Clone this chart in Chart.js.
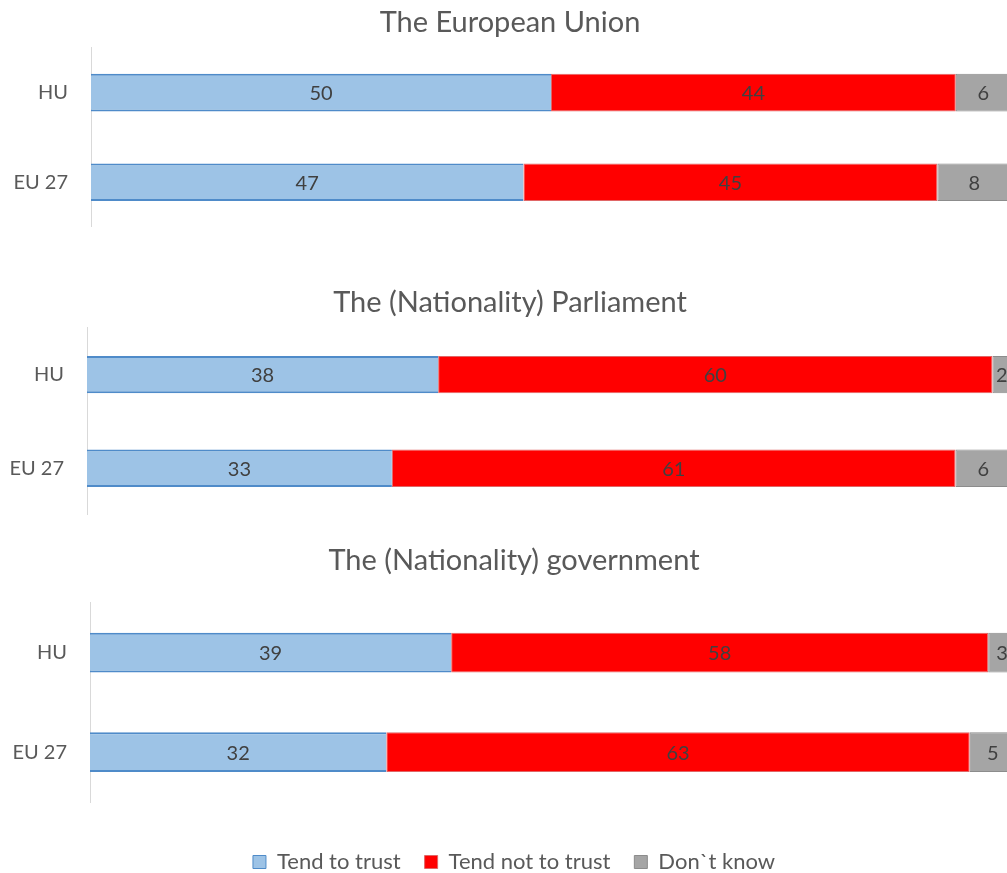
<!DOCTYPE html>
<html lang="en">
  <head>
    <meta charset="UTF-8" />
    <title>Trust in institutions</title>
    <script src="https://cdn.jsdelivr.net/npm/chart.js@4.4.0/dist/chart.umd.min.js"></script>
    <style>
      html, body { margin: 0; padding: 0; background: #fff; overflow: hidden; }
      body { width: 1007px; height: 873px; position: relative; }
      .box { position: absolute; }
    </style>
  </head>
  <body>
    <div class="box" style="left: 9px; top: 0px; width: 1002px; height: 227px"><canvas id="chart1"></canvas></div>
    <div class="box" style="left: 9px; top: 280px; width: 1002px; height: 235px"><canvas id="chart2"></canvas></div>
    <div class="box" style="left: 12px; top: 538px; width: 1004px; height: 345px"><canvas id="chart3"></canvas></div>

    <script>
      // datos
      const categories = ['HU', 'EU 27'];
      const seriesNames = ['Tend to trust', 'Tend not to trust', 'Don`t know'];
      const titles = ['The European Union', 'The (Nationality) Parliament', 'The (Nationality) government'];

      const trustEU = [50, 47];
      const notTrustEU = [44, 45];
      const dontKnowEU = [6, 8];

      const trustParl = [38, 33];
      const notTrustParl = [60, 61];
      const dontKnowParl = [2, 6];

      const trustGov = [39, 32];
      const notTrustGov = [58, 63];
      const dontKnowGov = [3, 5];

      const FONT = 'Lato';

      // Etiquetas de valor en el centro de cada barra
      const valueLabels = {
        id: 'valueLabels',
        afterDatasetsDraw(chart) {
          const ctx = chart.ctx;
          ctx.save();
          ctx.font = '20px ' + FONT;
          ctx.fillStyle = '#404040';
          ctx.textAlign = 'center';
          ctx.textBaseline = 'middle';
          chart.data.datasets.forEach((ds, i) => {
            chart.getDatasetMeta(i).data.forEach((bar, j) => {
              const p = bar.getProps(['x', 'y', 'base'], true);
              ctx.fillText(ds.data[j], (p.x + p.base) / 2, p.y + 1);
            });
          });
          ctx.restore();
        },
      };

      function makeChart(id, title, trust, notTrust, dontKnow, opts) {
        return new Chart(document.getElementById(id), {
          type: 'bar',
          data: {
            labels: categories,
            datasets: [
              { label: seriesNames[0], data: trust, backgroundColor: '#9DC3E6', borderColor: '#4F8BC9', borderWidth: { top: 2, bottom: 2, left: 0, right: 0 }, borderSkipped: false },
              { label: seriesNames[1], data: notTrust, backgroundColor: '#FF0000', borderColor: '#E06666', borderWidth: 1, borderSkipped: false },
              { label: seriesNames[2], data: dontKnow, backgroundColor: '#A5A5A5', borderColor: '#8C8C8C', borderWidth: 1, borderSkipped: false },
            ],
          },
          options: {
            indexAxis: 'y',
            responsive: true,
            maintainAspectRatio: false,
            animation: false,
            categoryPercentage: 1,
            barPercentage: opts.barPct,
            layout: { padding: 0 },
            scales: {
              x: {
                stacked: true,
                min: 0,
                max: 100,
                display: true,
                grid: { display: false, drawTicks: false },
                border: { display: false },
                ticks: { display: false },
                afterFit: (s) => { s.height = opts.xGap || 0; },
              },
              y: {
                stacked: true,
                grid: { display: false, drawTicks: false },
                border: { display: true, color: '#D9D9D9', width: 1 },
                ticks: { color: '#595959', font: { family: FONT, size: 20 }, padding: 23 },
                afterFit: (s) => {
                  s.width = opts.axisX;
                  // sin relleno extra arriba/abajo por las etiquetas
                  s.paddingTop = 0;
                  s.paddingBottom = 0;
                },
              },
            },
            plugins: {
              title: {
                display: true,
                text: title,
                color: '#595959',
                font: { family: FONT, size: 29, weight: 'normal' },
                padding: { top: 5, bottom: opts.titleGap },
              },
              legend: {
                display: !!opts.legend,
                position: 'bottom',
                labels: {
                  color: '#595959',
                  font: { family: FONT, size: 22 },
                  boxWidth: 13,
                  boxHeight: 13,
                  padding: 24,
                },
              },
              tooltip: { enabled: false },
            },
          },
          plugins: [valueLabels],
        });
      }

      makeChart('chart1', titles[0], trustEU, notTrustEU, dontKnowEU, { barPct: 0.42, axisX: 82, titleGap: 8 });
      makeChart('chart2', titles[1], trustParl, notTrustParl, dontKnowParl, { barPct: 0.40, axisX: 78, titleGap: 8 });
      makeChart('chart3', titles[2], trustGov, notTrustGov, dontKnowGov, { barPct: 0.40, axisX: 78, titleGap: 25, legend: true, xGap: 25 });
    </script>
  </body>
</html>
